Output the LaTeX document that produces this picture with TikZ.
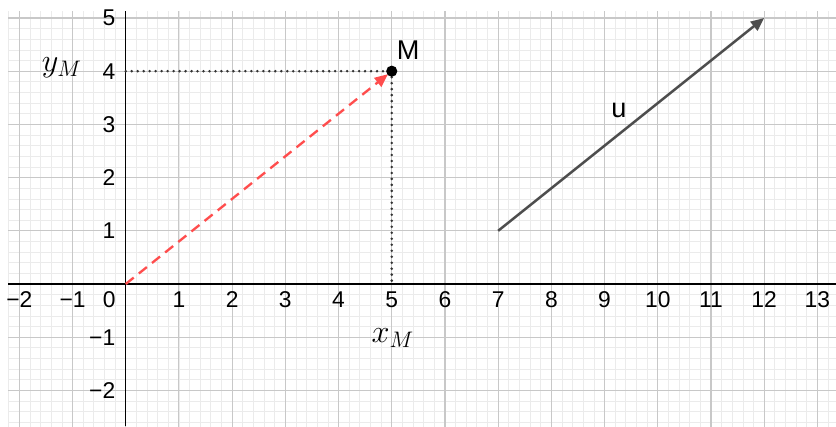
\documentclass[tikz,border=0pt]{standalone}
\usepackage{fontspec}
\setsansfont{Liberation Sans}
\usetikzlibrary{arrows.meta}
\definecolor{majgrid}{HTML}{C8C8C8}
\definecolor{mingrid}{HTML}{EBEBEB}
\definecolor{redvec}{HTML}{FF4D4D}
\definecolor{uvec}{HTML}{4D4D4D}
\definecolor{dotc}{HTML}{333333}
\tikzset{
  ticklab/.style={font=\sffamily\fontsize{12.2}{14}\selectfont, inner sep=0pt},
  ptlab/.style={font=\sffamily\fontsize{14.5}{17}\selectfont, inner sep=0pt},
  mathlab/.style={font=\fontsize{16.5}{19}\selectfont, inner sep=0pt},
  projline/.style={dotc, line width=1.5pt, line cap=round, dash pattern=on 0pt off 3.2pt},
  redarrow/.style={redvec, line width=1.25pt, dash pattern=on 5.5pt off 3.5pt, -{Triangle[length=0.25cm,width=0.21cm]}},
  uarrow/.style={uvec, line width=1.35pt, -{Triangle[length=0.25cm,width=0.21cm]}},
  dotpt/.style={circle, fill=black, inner sep=0pt, minimum size=0.21cm}
}
\begin{document}
\begin{tikzpicture}
\useasboundingbox (-2.363,-2.669) rectangle (13.35,5.338);
% grid
\begin{scope}
\clip (-2.21,-2.669) rectangle (13.35,5.13);
\draw[mingrid, line width=0.4pt, step=0.2] (-2.4,-2.8) grid (13.4,5.4);
\draw[majgrid, line width=0.6pt, step=1] (-3,-3) grid (14,6);
\end{scope}
% axes
\draw[black, line width=0.8pt] (-2.21,0) -- (13.35,0);
\draw[black, line width=0.8pt] (0,-2.669) -- (0,5.13);
% tick labels
\foreach \x in {-2,-1,1,2,3,4,5,6,7,8,9,10,11,12,13}
  \node[ticklab] (xl\x) at (\x,-0.30) {\ifnum\x<0 −\the\numexpr-\x\relax\else\x\fi};
\node[ticklab] (zl) at (-0.31,-0.30) {0};
\foreach \y in {1,2,3,4,5}
  \node[ticklab, anchor=east] (yl\y) at (-0.19,\y) {\y};
\foreach \y in {-1,-2}
  \node[ticklab, anchor=east] (yl\y) at (-0.19,\y) {−\the\numexpr-\y\relax};
% points
\coordinate (O) at (0,0);
\coordinate (Py) at (0,4);
\coordinate (Px) at (5,0);
\coordinate (U0) at (7,1);
\coordinate (U1) at (12,5);
\draw[projline] (Py) -- (5,4);
\draw[projline] (5,4) -- (Px);
\draw[redarrow] (O) -- (4.93,3.944);
\node[dotpt] (M) at (5,4) {};
\draw[uarrow] (U0) -- (U1);
% labels
\node[ptlab] (Ml) at (5.31,4.40) {M};
\node[ptlab] (ul) at (9.27,3.27) {u};
\node[mathlab] (yM) at (-1.2,4.06) {$y_M$};
\node[mathlab] (xM) at (5.02,-1.02) {$x_M$};
\end{tikzpicture}
\end{document}
